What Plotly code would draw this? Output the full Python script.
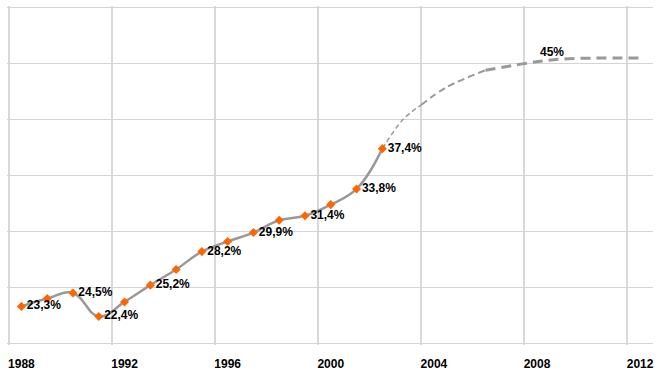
import plotly.graph_objects as go

# Observed data (mid-year points)
years = [1988.5, 1989.5, 1990.5, 1991.5, 1992.5, 1993.5, 1994.5, 1995.5,
         1996.5, 1997.5, 1998.5, 1999.5, 2000.5, 2001.5, 2002.5]
values = [23.3, 24.0, 24.5, 22.4, 23.7, 25.2, 26.6, 28.2,
          29.1, 29.9, 31.0, 31.4, 32.4, 33.8, 37.4]
labels = ["23,3%", "", "24,5%", "22,4%", "", "25,2%", "", "28,2%",
          "", "29,9%", "", "31,4%", "", "33,8%", "37,4%"]

# Projection (dashed)
proj_years = [2002.5, 2003.3, 2004.0, 2005.0, 2006.5, 2008.0, 2009.4, 2012.5]
proj_values = [37.4, 40.0, 41.3, 42.9, 44.4, 45.0, 45.4, 45.5]
target_year = 2009.1
target_value = 45.4
target_label = "45%"

# Axis
tick_years = [1988, 1992, 1996, 2000, 2004, 2008, 2012]
tick_labels = ["1988", "1992", "1996", "2000", "2004", "2008", "2012"]

GREY = "#999999"
ORANGE = "#FF6600"
FONT = "Liberation Sans, Arial, sans-serif"

fig = go.Figure()

# dashed projection split into segments of growing width
segs = [(0, 3, 1.5, "5px,3px"), (2, 5, 2.0, "7px,4px"), (4, 8, 3.0, "10px,6px")]
for a, b, w, d in segs:
    fig.add_trace(go.Scatter(
        x=proj_years[a:b], y=proj_values[a:b], mode="lines",
        line=dict(color=GREY, width=w, dash=d, shape="spline", smoothing=1.0),
        hoverinfo="skip", showlegend=False))

fig.add_trace(go.Scatter(
    x=years, y=values, mode="lines",
    line=dict(color=GREY, width=2.5, shape="spline", smoothing=1.2),
    showlegend=False, hoverinfo="skip"))

fig.add_trace(go.Scatter(
    x=years, y=values, mode="markers+text",
    marker=dict(symbol="diamond", color=ORANGE, size=7),
    text=labels, textposition="middle right",
    textfont=dict(family=FONT, size=12, color="#000000", weight="bold"),
    showlegend=False, cliponaxis=False))

fig.add_annotation(x=target_year, y=target_value, text=target_label,
                   showarrow=False, yanchor="bottom", yshift=-2,
                   font=dict(family=FONT, size=12, color="#000000", weight="bold"))

fig.update_layout(
    width=662, height=381,
    margin=dict(l=7, r=9, t=6, b=36, autoexpand=False),
    paper_bgcolor="white", plot_bgcolor="white",
    xaxis=dict(
        range=[1987.94, 2013.0],
        automargin=False,
        tickmode="array",
        tickvals=[t + 0.5 for t in tick_years],
        ticktext=tick_labels,
        tickfont=dict(family=FONT, size=12, color="#000000", weight="bold"),
        showgrid=False, zeroline=False,
        showline=False, ticks="", ticklabelstandoff=10,
        minor=dict(tickmode="array", tickvals=tick_years, showgrid=True,
                   gridcolor="#d9d9d9", gridwidth=2, ticks=""),
    ),
    yaxis=dict(
        range=[19.85, 50.15], dtick=5, tick0=20,
        automargin=False,
        showticklabels=False, showgrid=True,
        gridcolor="#d4d4d4", gridwidth=1, zeroline=False,
        showline=False,
    ),
)

fig.write_html("out.html", config={"displayModeBar": False},
               post_script="document.body.style.margin='0';"
                           "document.body.style.overflow='hidden';")
